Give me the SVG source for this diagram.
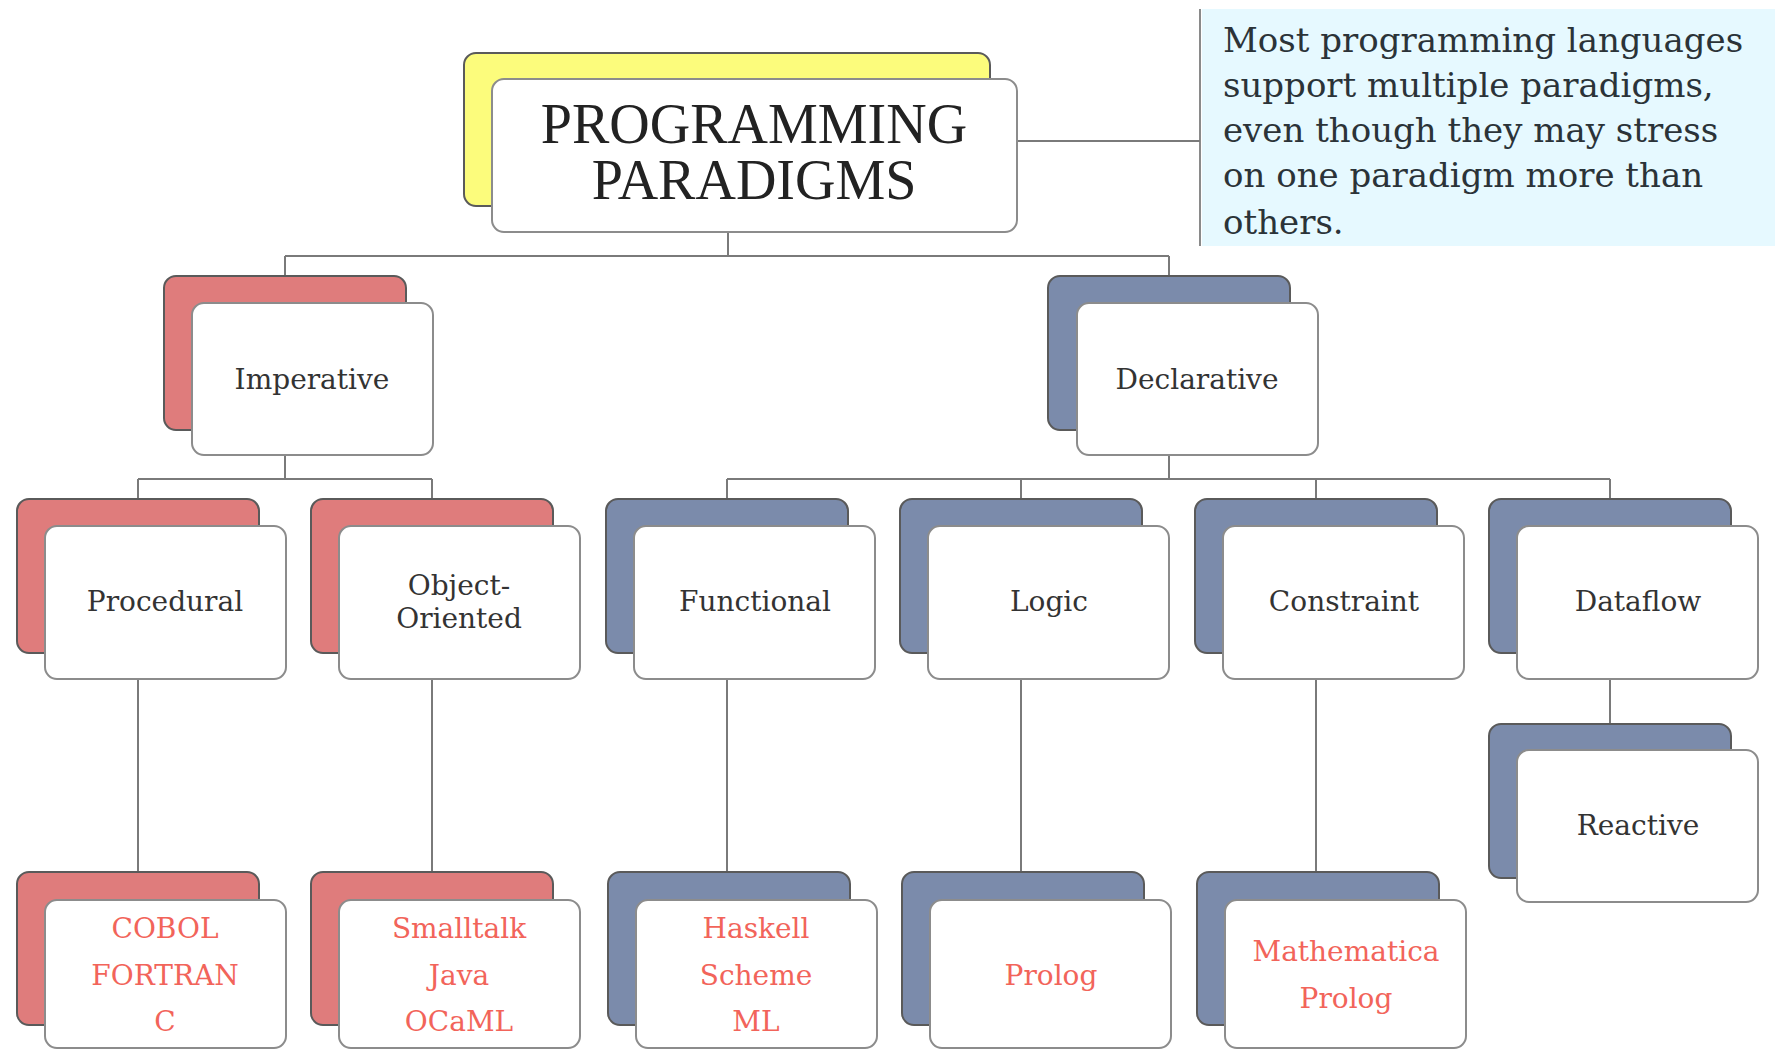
<svg xmlns="http://www.w3.org/2000/svg" width="1775" height="1050" viewBox="0 0 1775 1050">
  <style>
    .back { stroke: #5a5a5a; stroke-width: 2; }
    .red { fill: #df7c7c; }
    .blue { fill: #7b8bab; }
    .yellow { fill: #fcfc7c; }
    .front { fill: #ffffff; stroke: #8c8c8c; stroke-width: 2; }
    .wire { fill: none; stroke: #7a7a7a; stroke-width: 2; }
    .label { font-family: "DejaVu Serif", "Liberation Serif", serif; font-size: 28px; fill: #333333; text-anchor: middle; }
    .lang { font-family: "DejaVu Serif", "Liberation Serif", serif; font-size: 28px; fill: #f2645a; text-anchor: middle; }
    .title { font-family: "Liberation Serif", "DejaVu Serif", serif; font-size: 56px; fill: #222222; text-anchor: middle; }
    .note { font-family: "DejaVu Serif", "Liberation Serif", serif; font-size: 34px; fill: #2b3338; }
  </style>

  <rect width="1775" height="1050" fill="#ffffff"/>

  <!-- side note -->
  <g id="note">
    <rect x="1202" y="9" width="573" height="237" fill="#e6f9ff"/>
    <line x1="1200" y1="9" x2="1200" y2="246" stroke="#8a8a8a" stroke-width="2"/>
    <text class="note" x="1223" y="52">Most programming languages</text>
    <text class="note" x="1223" y="97">support multiple paradigms,</text>
    <text class="note" x="1223" y="142">even though they may stress</text>
    <text class="note" x="1223" y="187">on one paradigm more than</text>
    <text class="note" x="1223" y="234">others.</text>
  </g>

  <!-- connectors -->
  <g id="connectors" class="wire">
    <path d="M1017 141 H1200"/>
    <path d="M728 232 V256 M285 256 H1169 M285 256 V276 M1169 256 V276"/>
    <path d="M285 455 V479 M138 479 H432 M138 479 V499 M432 479 V499"/>
    <path d="M1169 455 V479 M727 479 H1610 M727 479 V499 M1021 479 V499 M1316 479 V499 M1610 479 V499"/>
    <path d="M138 679 V872 M432 679 V872 M727 679 V872 M1021 679 V872 M1316 679 V872 M1610 679 V724"/>
  </g>

  <!-- root -->
  <g id="root">
    <rect class="back yellow" x="464" y="53" width="526" height="153" rx="12"/>
    <rect class="front" x="492" y="79" width="525" height="153" rx="12"/>
    <text class="title" x="754" y="143">PROGRAMMING</text>
    <text class="title" x="754" y="199">PARADIGMS</text>
  </g>

  <!-- first level -->
  <g id="imperative">
    <rect class="back red" x="164" y="276" width="242" height="154" rx="12"/>
    <rect class="front" x="192" y="303" width="241" height="152" rx="12"/>
    <text class="label" x="312" y="389">Imperative</text>
  </g>
  <g id="declarative">
    <rect class="back blue" x="1048" y="276" width="242" height="154" rx="12"/>
    <rect class="front" x="1077" y="303" width="241" height="152" rx="12"/>
    <text class="label" x="1197" y="389">Declarative</text>
  </g>

  <!-- second level -->
  <g id="procedural">
    <rect class="back red" x="17" y="499" width="242" height="154" rx="12"/>
    <rect class="front" x="45" y="526" width="241" height="153" rx="12"/>
    <text class="label" x="165" y="611">Procedural</text>
  </g>
  <g id="object-oriented">
    <rect class="back red" x="311" y="499" width="242" height="154" rx="12"/>
    <rect class="front" x="339" y="526" width="241" height="153" rx="12"/>
    <text class="label" x="459" y="595">Object-</text>
    <text class="label" x="459" y="628">Oriented</text>
  </g>
  <g id="functional">
    <rect class="back blue" x="606" y="499" width="242" height="154" rx="12"/>
    <rect class="front" x="634" y="526" width="241" height="153" rx="12"/>
    <text class="label" x="755" y="611">Functional</text>
  </g>
  <g id="logic">
    <rect class="back blue" x="900" y="499" width="242" height="154" rx="12"/>
    <rect class="front" x="928" y="526" width="241" height="153" rx="12"/>
    <text class="label" x="1049" y="611">Logic</text>
  </g>
  <g id="constraint">
    <rect class="back blue" x="1195" y="499" width="242" height="154" rx="12"/>
    <rect class="front" x="1223" y="526" width="241" height="153" rx="12"/>
    <text class="label" x="1344" y="611">Constraint</text>
  </g>
  <g id="dataflow">
    <rect class="back blue" x="1489" y="499" width="242" height="154" rx="12"/>
    <rect class="front" x="1517" y="526" width="241" height="153" rx="12"/>
    <text class="label" x="1638" y="611">Dataflow</text>
  </g>
  <g id="reactive">
    <rect class="back blue" x="1489" y="724" width="242" height="154" rx="12"/>
    <rect class="front" x="1517" y="750" width="241" height="152" rx="12"/>
    <text class="label" x="1638" y="835">Reactive</text>
  </g>

  <!-- languages -->
  <g id="procedural-langs">
    <rect class="back red" x="17" y="872" width="242" height="153" rx="12"/>
    <rect class="front" x="45" y="900" width="241" height="148" rx="12"/>
    <text class="lang" x="165" y="938">COBOL</text>
    <text class="lang" x="165" y="985">FORTRAN</text>
    <text class="lang" x="165" y="1031">C</text>
  </g>
  <g id="oo-langs">
    <rect class="back red" x="311" y="872" width="242" height="153" rx="12"/>
    <rect class="front" x="339" y="900" width="241" height="148" rx="12"/>
    <text class="lang" x="459" y="938">Smalltalk</text>
    <text class="lang" x="459" y="985">Java</text>
    <text class="lang" x="459" y="1031">OCaML</text>
  </g>
  <g id="functional-langs">
    <rect class="back blue" x="608" y="872" width="242" height="153" rx="12"/>
    <rect class="front" x="636" y="900" width="241" height="148" rx="12"/>
    <text class="lang" x="756" y="938">Haskell</text>
    <text class="lang" x="756" y="985">Scheme</text>
    <text class="lang" x="756" y="1031">ML</text>
  </g>
  <g id="logic-langs">
    <rect class="back blue" x="902" y="872" width="242" height="153" rx="12"/>
    <rect class="front" x="930" y="900" width="241" height="148" rx="12"/>
    <text class="lang" x="1051" y="985">Prolog</text>
  </g>
  <g id="constraint-langs">
    <rect class="back blue" x="1197" y="872" width="242" height="153" rx="12"/>
    <rect class="front" x="1225" y="900" width="241" height="148" rx="12"/>
    <text class="lang" x="1346" y="961">Mathematica</text>
    <text class="lang" x="1346" y="1008">Prolog</text>
  </g>
</svg>
